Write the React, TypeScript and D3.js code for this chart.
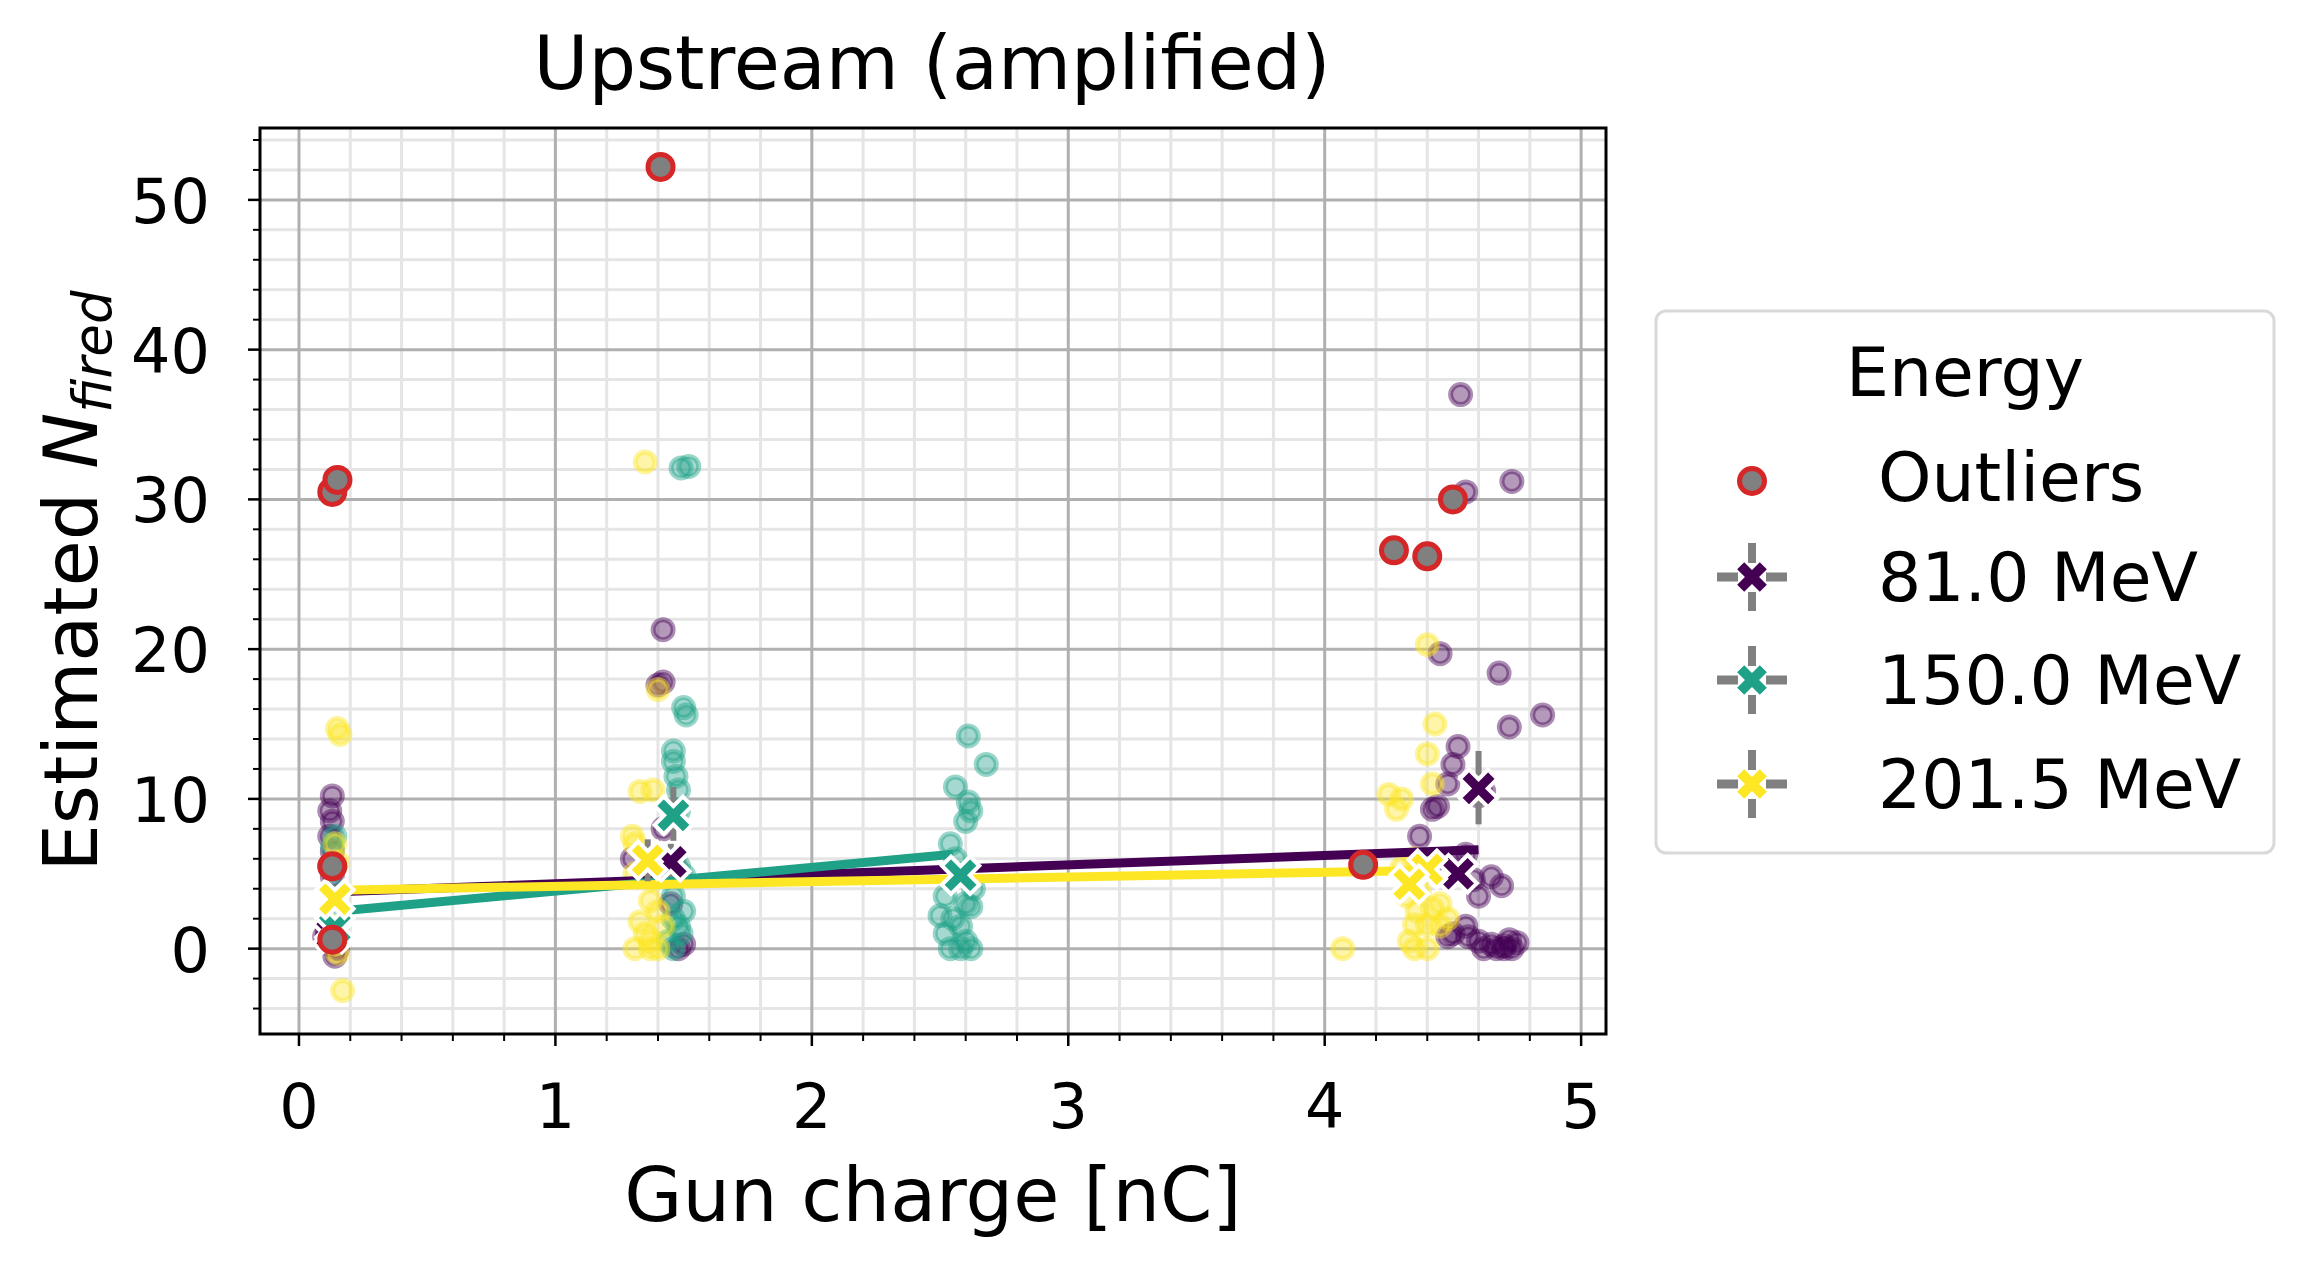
import { useEffect, useRef } from "react"
import * as d3 from "d3"

type Pt = [number, number]

const energies = ["81.0 MeV", "150.0 MeV", "201.5 MeV"]
const colors = ["#440154", "#1fa187", "#fde725"]

// scatter points [charge, N]
const pts81: Pt[] = [
  [0.13, 10.2], [0.12, 9.2], [0.13, 8.5], [0.12, 7.5], [0.13, 6.5], [0.12, 5.5], [0.13, 4.8], [0.1, 0.8], [0.12, 0.3], [0.14, -0.5], [0.11, 1.2], [0.15, 0],
  [1.42, 21.3], [1.4, 17.6], [1.42, 17.8], [1.3, 6], [1.46, 5.8], [1.45, 3], [1.5, 0.3], [1.48, 0], [1.42, 8],
  [4.53, 37], [4.55, 30.5], [4.73, 31.2], [4.45, 19.7], [4.68, 18.4], [4.72, 14.8], [4.85, 15.6], [4.52, 13.5], [4.5, 12.3], [4.48, 11], [4.6, 10.2],
  [4.37, 7.5], [4.44, 9.5], [4.42, 9.3], [4.62, 10.5], [4.55, 6.3], [4.42, 5.8], [4.5, 6.0], [4.58, 4.6], [4.65, 4.8], [4.6, 3.5], [4.69, 4.2],
  [4.55, 1.5], [4.56, 0.8], [4.6, 0.5], [4.65, 0.3], [4.7, 0.2], [4.72, 0.6], [4.75, 0.4], [4.62, 0], [4.67, 0], [4.7, 0], [4.73, 0], [4.5, 1], [4.48, 0.8],
]
const pts150: Pt[] = [
  [0.14, 7.5], [0.13, 6.8], [0.14, 5.5], [0.13, 4], [0.14, 2], [0.15, 1], [0.14, 0.5],
  [1.49, 32.1], [1.52, 32.2], [1.5, 16.1], [1.51, 15.6], [1.46, 13.2], [1.46, 12.5], [1.47, 11.5], [1.48, 10.6], [1.48, 9.2], [1.48, 5.5], [1.5, 4.9],
  [1.46, 3.5], [1.46, 2], [1.48, 1.5], [1.44, 0.5], [1.46, 0], [1.49, 1], [1.5, 2.5],
  [2.61, 14.2], [2.68, 12.3], [2.56, 10.8], [2.61, 9.8], [2.62, 9.2], [2.6, 8.5], [2.54, 7], [2.56, 6], [2.58, 5], [2.52, 3.5], [2.6, 3],
  [2.5, 2.2], [2.55, 2], [2.58, 1.5], [2.52, 1], [2.6, 0.5], [2.54, 0], [2.58, 0], [2.62, 0], [2.63, 4], [2.62, 2.8],
]
const pts201: Pt[] = [
  [0.15, 14.7], [0.16, 14.3], [0.15, -0.3], [0.17, -2.8], [0.14, 7], [0.15, 5.8], [0.14, 0.3], [0.15, 1.5],
  [1.35, 32.5], [1.4, 17.3], [1.33, 10.5], [1.38, 10.6], [1.3, 7.5], [1.31, 7], [1.31, 5], [1.37, 3.2], [1.4, 2.5], [1.33, 1.8], [1.35, 1.0],
  [1.37, 0.5], [1.31, 0], [1.37, 0], [1.4, 0], [1.42, 1.5], [1.38, 4.6],
  [4.4, 20.3], [4.43, 15], [4.4, 13], [4.42, 11], [4.25, 10.3], [4.3, 10], [4.28, 9.3], [4.35, 6], [4.3, 5.4], [4.35, 4.8], [4.37, 3.9], [4.32, 3.5],
  [4.36, 2.5], [4.42, 2.7], [4.35, 1.6], [4.4, 1.6], [4.45, 1.5], [4.33, 0.5], [4.35, 0], [4.4, 0], [4.07, 0], [4.48, 2], [4.45, 3],
]
const scatter = [pts81, pts150, pts201]

const outliers: Pt[] = [[0.13, 30.5], [0.15, 31.3], [1.41, 52.2], [4.27, 26.6], [4.4, 26.2], [4.5, 30], [0.13, 5.5], [4.15, 5.6], [0.13, 0.6]]

// fit lines
const fits: Pt[][] = [
  [[0.15, 3.8], [4.6, 6.6]],
  [[0.15, 2.5], [2.55, 6.3]],
  [[0.15, 3.9], [4.34, 5.2]],
]

// means [charge, N, low, high]
const means: [number, number, number, number][][] = [
  [[0.13, 1.0, 0.2, 1.8], [1.45, 5.8, 4.8, 7.0], [4.6, 10.7, 8.3, 13.2], [4.52, 5.0, 4.3, 5.7]],
  [[0.14, 1.4, 0.6, 2.2], [1.46, 8.9, 7.2, 10.8], [2.58, 4.9, 4.2, 5.6]],
  [[0.14, 3.3, 2.6, 4.0], [1.36, 5.9, 4.5, 7.3], [4.4, 5.3, 4.6, 6.0], [4.33, 4.3, 3.6, 5.0]],
]

const xTicks = [0, 1, 2, 3, 4, 5]
const yTicks = [0, 10, 20, 30, 40, 50]

const xPath = (s: number, t: number) => {
  const p: Pt[] = [[-t, -s], [t, -s], [t, -t], [s, -t], [s, t], [t, t], [t, s], [-t, s], [-t, t], [-s, t], [-s, -t], [-t, -t]]
  const c = Math.SQRT1_2
  return "M" + p.map(([a, b]) => `${(a - b) * c},${(a + b) * c}`).join("L") + "Z"
}

export default function App() {
  const ref = useRef<SVGSVGElement>(null)

  useEffect(() => {
    const svg = d3.select(ref.current)
    svg.selectAll("*").remove()
    const L = 260, R = 1606, T = 128, B = 1034
    const x = d3.scaleLinear().domain([-0.152, 5.097]).range([L, R])
    const y = d3.scaleLinear().domain([-5.7, 54.8]).range([B, T])
    const font = "DejaVu Sans, sans-serif"

    const clip = svg.append("clipPath").attr("id", "clip")
    clip.append("rect").attr("x", L).attr("y", T).attr("width", R - L).attr("height", B - T)

    // minor grid
    const g = svg.append("g")
    d3.range(-0.2, 5.2, 0.2).map((v) => +v.toFixed(1)).filter((v) => v >= -0.15 && !xTicks.includes(v)).forEach((v) => {
      g.append("line").attr("x1", x(v)).attr("x2", x(v)).attr("y1", T).attr("y2", B).attr("stroke", "#e5e5e5").attr("stroke-width", 3)
    })
    d3.range(-4, 55, 2).filter((v) => v % 10 !== 0).forEach((v) => {
      g.append("line").attr("y1", y(v)).attr("y2", y(v)).attr("x1", L).attr("x2", R).attr("stroke", "#e5e5e5").attr("stroke-width", 3)
    })
    xTicks.forEach((v) => g.append("line").attr("x1", x(v)).attr("x2", x(v)).attr("y1", T).attr("y2", B).attr("stroke", "#b0b0b0").attr("stroke-width", 3))
    yTicks.forEach((v) => g.append("line").attr("y1", y(v)).attr("y2", y(v)).attr("x1", L).attr("x2", R).attr("stroke", "#b0b0b0").attr("stroke-width", 3))

    const plot = svg.append("g").attr("clip-path", "url(#clip)")
    scatter.forEach((pts, i) => {
      plot.selectAll(null).data(pts).enter().append("circle")
        .attr("cx", (d) => x(d[0])).attr("cy", (d) => y(d[1])).attr("r", 10)
        .attr("fill", colors[i]).attr("fill-opacity", 0.4)
        .attr("stroke", colors[i]).attr("stroke-opacity", 0.45).attr("stroke-width", 5)
    })

    const line = d3.line<Pt>().x((d) => x(d[0])).y((d) => y(d[1]))
    fits.forEach((f, i) => {
      plot.append("path").attr("d", line(f)).attr("stroke", colors[i]).attr("stroke-width", 9).attr("fill", "none")
    })

    means.forEach((ms, i) => {
      ms.forEach(([cx, cy, lo, hi]) => {
        plot.append("line").attr("x1", x(cx)).attr("x2", x(cx)).attr("y1", y(lo)).attr("y2", y(hi)).attr("stroke", "#808080").attr("stroke-width", 6)
      })
      ms.forEach(([cx, cy]) => {
        plot.append("path").attr("d", xPath(20, 6.5)).attr("transform", `translate(${x(cx)},${y(cy)})`)
          .attr("fill", colors[i]).attr("stroke", "white").attr("stroke-width", 4)
      })
    })

    plot.selectAll(null).data(outliers).enter().append("circle")
      .attr("cx", (d) => x(d[0])).attr("cy", (d) => y(d[1])).attr("r", 12.5)
      .attr("fill", "#808080").attr("stroke", "#d62728").attr("stroke-width", 5)

    // frame
    svg.append("rect").attr("x", L).attr("y", T).attr("width", R - L).attr("height", B - T)
      .attr("fill", "none").attr("stroke", "black").attr("stroke-width", 3)

    // ticks
    d3.range(-0.2, 5.2, 0.2).map((v) => +v.toFixed(1)).filter((v) => v >= -0.15).forEach((v) => {
      const major = xTicks.includes(v)
      svg.append("line").attr("x1", x(v)).attr("x2", x(v)).attr("y1", B).attr("y2", B + (major ? 12 : 7)).attr("stroke", "black").attr("stroke-width", major ? 2.5 : 2)
    })
    d3.range(-4, 55, 2).forEach((v) => {
      const major = v % 10 === 0
      svg.append("line").attr("y1", y(v)).attr("y2", y(v)).attr("x1", L).attr("x2", L - (major ? 12 : 7)).attr("stroke", "black").attr("stroke-width", major ? 2.5 : 2)
    })
    xTicks.forEach((v) => svg.append("text").attr("x", x(v)).attr("y", 1128).attr("text-anchor", "middle")
      .attr("font-family", font).attr("font-size", 62).text(v))
    yTicks.forEach((v) => svg.append("text").attr("x", 210).attr("y", y(v) + 23).attr("text-anchor", "end")
      .attr("font-family", font).attr("font-size", 62).text(v))

    svg.append("text").attr("x", 932).attr("y", 89).attr("text-anchor", "middle")
      .attr("font-family", font).attr("font-size", 75).text("Upstream (amplified)")
    svg.append("text").attr("x", (L + R) / 2).attr("y", 1221).attr("text-anchor", "middle")
      .attr("font-family", font).attr("font-size", 75).text("Gun charge [nC]")
    const yl = svg.append("text").attr("transform", `translate(97,${(T + B) / 2}) rotate(-90)`).attr("text-anchor", "middle")
      .attr("font-family", font).attr("font-size", 75)
    yl.append("tspan").text("Estimated ")
    yl.append("tspan").attr("font-style", "italic").text("N")
    yl.append("tspan").attr("font-style", "italic").attr("font-size", 53).attr("dy", 14).text("fired")

    // legend
    const lg = svg.append("g")
    lg.append("rect").attr("x", 1656).attr("y", 311).attr("width", 618).attr("height", 542).attr("rx", 10)
      .attr("fill", "white").attr("stroke", "#d9d9d9").attr("stroke-width", 3)
    lg.append("text").attr("x", 1965).attr("y", 396).attr("text-anchor", "middle").attr("font-family", font).attr("font-size", 68).text("Energy")
    const rows = [481, 577, 680, 784]
    lg.append("circle").attr("cx", 1752).attr("cy", rows[0]).attr("r", 12.5).attr("fill", "#808080").attr("stroke", "#d62728").attr("stroke-width", 5)
    lg.append("text").attr("x", 1878).attr("y", rows[0] + 20).attr("font-family", font).attr("font-size", 68).text("Outliers")
    energies.forEach((e, i) => {
      const cy = rows[i + 1]
      lg.append("line").attr("x1", 1717).attr("x2", 1787).attr("y1", cy).attr("y2", cy).attr("stroke", "#808080").attr("stroke-width", 9).attr("stroke-dasharray", "21,28")
      lg.append("line").attr("x1", 1752).attr("x2", 1752).attr("y1", cy - 34).attr("y2", cy + 34).attr("stroke", "#808080").attr("stroke-width", 8).attr("stroke-dasharray", "20,29")
      lg.append("path").attr("d", xPath(16, 5)).attr("transform", `translate(1752,${cy})`).attr("fill", colors[i])
      lg.append("text").attr("x", 1878).attr("y", cy + 24).attr("font-family", font).attr("font-size", 68).text(e)
    })
  }, [])

  return <svg ref={ref} width={2306} height={1265} style={{ position: "absolute", left: 0, top: 0, background: "white" }} />
}
